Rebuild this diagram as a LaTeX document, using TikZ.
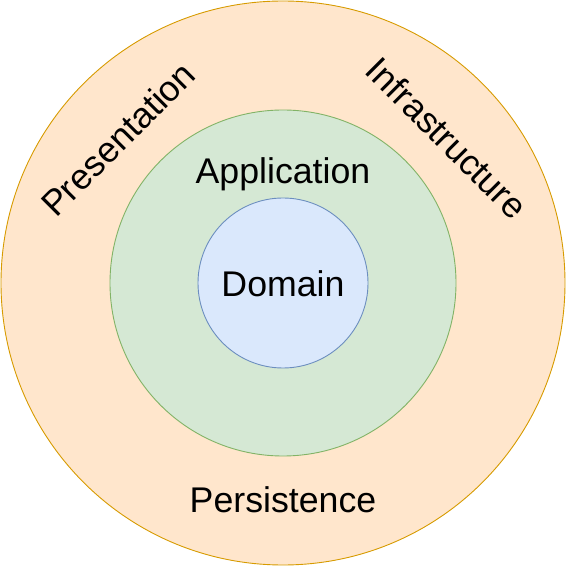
\documentclass[tikz,border=0pt]{standalone}
\usepackage{fontspec}
\setmainfont{Liberation Sans}
\definecolor{ofill}{HTML}{FFE6CC}
\definecolor{ostroke}{HTML}{D79B00}
\definecolor{gfill}{HTML}{D5E8D4}
\definecolor{gstroke}{HTML}{82B366}
\definecolor{bfill}{HTML}{DAE8FC}
\definecolor{bstroke}{HTML}{6C8EBF}
\tikzset{
  lbl/.style={font=\fontsize{35.7}{40}\selectfont, inner sep=0pt, anchor=center},
  ring/.style={line width=0.9pt}
}
\begin{document}
\begin{tikzpicture}[x=1pt,y=1pt]
\useasboundingbox (0,0) rectangle (566,566);
\node[ring, circle, draw=ostroke, fill=ofill, minimum size=564pt, inner sep=0pt] (outer) at (283,283) {};
\node[ring, circle, draw=gstroke, fill=gfill, minimum size=346pt, inner sep=0pt] (mid) at (283,283) {};
\node[ring, circle, draw=bstroke, fill=bfill, minimum size=170pt, inner sep=0pt] (inner) at (283,283) {};
\node[lbl] (dom) at (283,282) {Domain};
\node[lbl] (app) at (283,392) {Application};
\node[lbl] (pers) at (283,66) {Persistence};
\node[lbl, rotate=45] (pres) at (118,427) {Presentation};
\node[lbl, rotate=-45] (infra) at (447,428) {Infrastructure};
\end{tikzpicture}
\end{document}
